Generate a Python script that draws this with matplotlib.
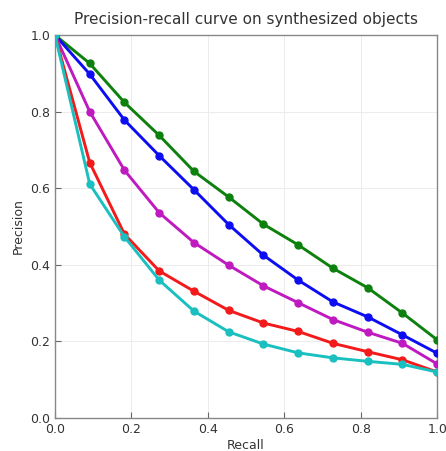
import matplotlib
matplotlib.use("Agg")
import matplotlib.pyplot as plt
import numpy as np

recall = [0.0, 1/11, 2/11, 3/11, 4/11, 5/11, 6/11, 7/11, 8/11, 9/11, 10/11, 1.0]

green = [1.0, 0.926, 0.824, 0.738, 0.644, 0.577, 0.506, 0.452, 0.391, 0.340, 0.274, 0.204]
blue = [1.0, 0.898, 0.778, 0.685, 0.596, 0.505, 0.425, 0.360, 0.303, 0.264, 0.217, 0.169]
magenta = [1.0, 0.800, 0.647, 0.536, 0.458, 0.399, 0.345, 0.301, 0.257, 0.224, 0.195, 0.141]
red = [1.0, 0.667, 0.480, 0.384, 0.331, 0.281, 0.248, 0.226, 0.195, 0.173, 0.152, 0.120]
cyan = [1.0, 0.611, 0.473, 0.360, 0.279, 0.225, 0.193, 0.170, 0.157, 0.148, 0.140, 0.120]

series = [
    (green, (0.05, 0.5, 0.05)),
    (blue, (0.05, 0.05, 0.95)),
    (magenta, (0.75, 0.1, 0.75)),
    (red, (0.95, 0.1, 0.1)),
    (cyan, (0.1, 0.75, 0.75)),
]

fig = plt.figure(figsize=(4.46, 4.51), dpi=100)
ax = fig.add_axes([0.1233, 0.0732, 0.857, 0.849])

for vals, col in series:
    ax.plot(recall, vals, color=col, linewidth=2.1, marker='o', markersize=5,
            markeredgecolor=col, zorder=3)

ax.set_xlim(0, 1)
ax.set_ylim(0, 1)
ticks = [0.0, 0.2, 0.4, 0.6, 0.8, 1.0]
ax.set_xticks(ticks)
ax.set_yticks(ticks)
ax.set_xticklabels([f"{t:.1f}" for t in ticks])
ax.set_yticklabels([f"{t:.1f}" for t in ticks])
ax.tick_params(direction='in', length=4, labelsize=9, colors='#666666', labelcolor='#333333')
ax.grid(True, color='#ececec', linewidth=0.7)
ax.set_axisbelow(True)
for s in ax.spines.values():
    s.set_color('#888888')
    s.set_linewidth(1.0)

ax.set_xlabel("Recall", fontsize=9, color='#333333', labelpad=2)
ax.set_ylabel("Precision", fontsize=9, color='#333333', labelpad=4)
ax.set_title("Precision-recall curve on synthesized objects", fontsize=11, color='#333333', pad=8)

fig.savefig("out.png", dpi=100)
